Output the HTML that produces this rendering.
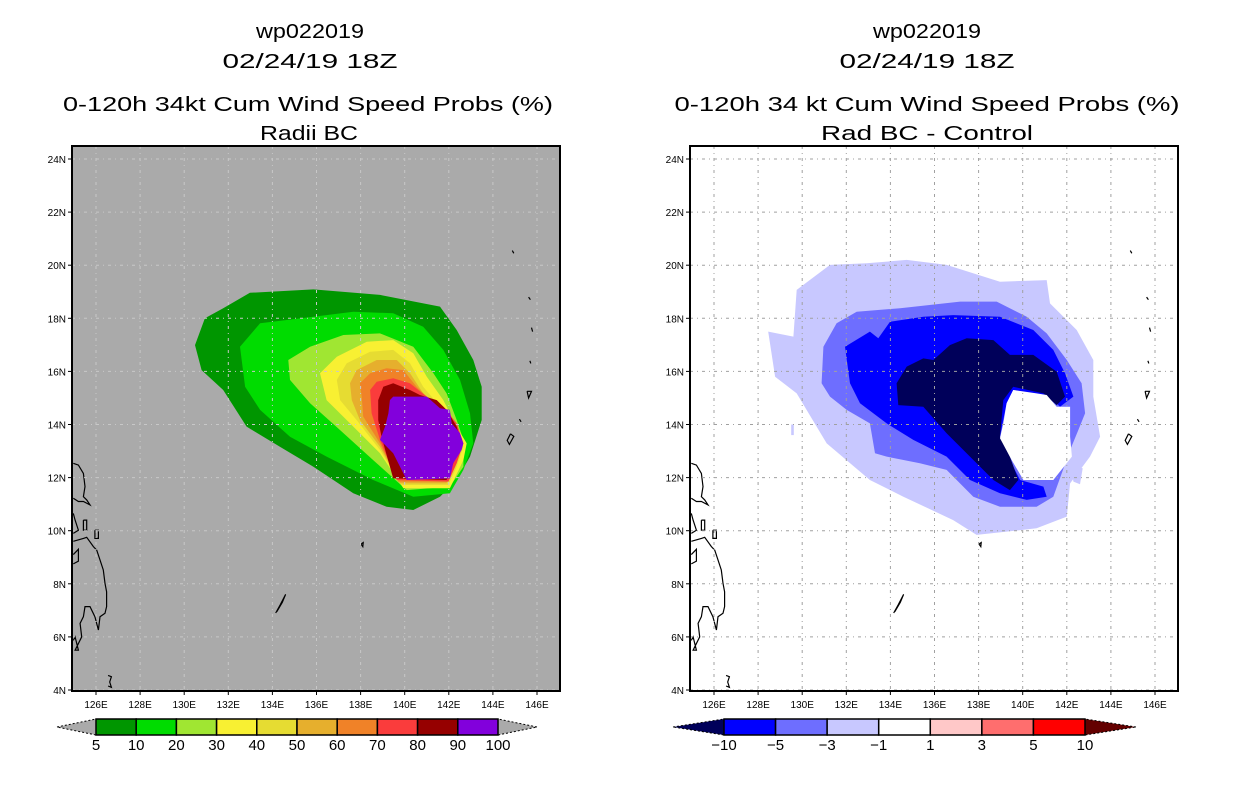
<!DOCTYPE html>
<html><head><meta charset="utf-8"><style>
html,body{margin:0;padding:0;background:#fff;width:1236px;height:800px;overflow:hidden}
svg text{font-family:"Liberation Sans",sans-serif;fill:#000}
</style></head><body>
<svg id="chart" width="1236" height="800" viewBox="0 0 1236 800" xmlns="http://www.w3.org/2000/svg">
<defs>
<clipPath id="clipL"><rect x="72" y="146" width="488" height="545"/></clipPath>
<clipPath id="clipR"><rect x="690" y="146" width="488" height="545"/></clipPath>
</defs>
<g>
<text x="310" y="38" text-anchor="middle" font-size="20" textLength="108" lengthAdjust="spacingAndGlyphs">wp022019</text>
<text x="310" y="68" text-anchor="middle" font-size="20" textLength="175" lengthAdjust="spacingAndGlyphs">02/24/19 18Z</text>
<text x="308" y="111" text-anchor="middle" font-size="20" textLength="490" lengthAdjust="spacingAndGlyphs">0-120h 34kt Cum Wind Speed Probs (%)</text>
<text x="309" y="140" text-anchor="middle" font-size="20" textLength="98" lengthAdjust="spacingAndGlyphs">Radii BC</text>
</g>
<g>
<text x="927" y="38" text-anchor="middle" font-size="20" textLength="108" lengthAdjust="spacingAndGlyphs">wp022019</text>
<text x="927" y="68" text-anchor="middle" font-size="20" textLength="175" lengthAdjust="spacingAndGlyphs">02/24/19 18Z</text>
<text x="927" y="111" text-anchor="middle" font-size="20" textLength="505" lengthAdjust="spacingAndGlyphs">0-120h 34 kt Cum Wind Speed Probs (%)</text>
<text x="927" y="140" text-anchor="middle" font-size="20" textLength="212" lengthAdjust="spacingAndGlyphs">Rad BC - Control</text>
</g>
<g id="left-map"></g>
<g id="right-map"></g>
<g id="cbar-left"></g>
<g id="cbar-right"></g>
</svg>
<script>
// ---- data ----
const lonTicks = [126,128,130,132,134,136,138,140,142,144,146];
const latTicks = [4,6,8,10,12,14,16,18,20,22,24];
const probLevels = [5,10,20,30,40,50,60,70,80,90];
const probColors = ["#009600","#00dc00","#a0e632","#f8f032","#e6dc32","#e6af2d","#f08228","#fa3c3c","#960000","#8200dc"];
const probBarLabels = ["5","10","20","30","40","50","60","70","80","90","100"];
const p5 = [[130.49,16.99],[130.94,18.0],[131.77,18.38],[132.98,18.96],[135.86,19.09],[138.88,18.88],[141.60,18.44],[142.36,17.56],[143.11,16.43],[143.49,15.42],[143.49,14.17],[142.96,12.79],[142.36,11.91],[141.60,11.28],[140.39,10.78],[139.18,10.90],[137.67,11.41],[135.86,12.41],[134.34,13.16],[132.83,13.92],[131.77,15.30],[130.79,16.05]];
const p10 = [[132.53,16.93],[133.44,17.81],[135.86,18.06],[137.67,18.25],[139.48,18.19],[140.84,17.68],[141.75,16.81],[142.51,15.68],[142.96,14.42],[143.11,13.29],[142.66,12.29],[142.05,11.41],[140.39,11.28],[138.57,11.91],[136.46,12.79],[134.80,13.54],[133.44,14.55],[132.76,15.42]];
const p20 = [[134.72,16.43],[135.71,16.93],[137.22,17.37],[138.88,17.43],[140.39,16.93],[141.30,15.93],[141.90,15.17],[142.36,14.17],[142.66,13.42],[142.66,12.41],[142.05,11.66],[140.09,11.53],[138.57,12.66],[137.07,13.79],[135.71,14.80],[134.80,15.68]];
const p30 = [[136.16,15.93],[136.92,16.55],[138.28,17.12],[139.48,17.18],[140.39,16.68],[141.00,15.80],[141.75,14.92],[142.36,13.92],[142.81,13.29],[142.66,12.66],[142.05,11.60],[139.94,11.60],[138.88,12.92],[137.67,13.92],[136.46,14.92]];
const p40 = [[136.92,15.68],[137.37,16.31],[138.43,16.74],[139.48,16.81],[140.24,16.31],[140.84,15.42],[141.60,14.67],[142.36,13.79],[142.66,13.16],[142.36,12.41],[141.98,11.72],[139.86,11.72],[138.88,13.04],[137.82,14.17],[137.07,14.92]];
const p50 = [[137.52,15.55],[137.82,16.05],[138.73,16.43],[139.64,16.43],[140.24,15.93],[140.84,15.17],[141.75,14.55],[142.36,13.67],[142.58,13.16],[142.28,12.47],[141.90,11.78],[139.79,11.78],[138.88,13.16],[137.97,14.17],[137.60,14.92]];
const p60 = [[137.97,15.55],[138.43,15.93],[139.18,16.12],[139.94,16.05],[140.54,15.42],[141.30,14.80],[142.05,14.42],[142.51,13.67],[142.51,12.92],[141.90,11.85],[139.71,11.85],[138.88,13.29],[138.12,14.30],[138.05,15.05]];
const p70 = [[138.43,15.30],[138.73,15.61],[139.48,15.74],[140.24,15.55],[140.99,15.05],[141.75,14.67],[142.36,14.04],[142.66,13.29],[142.36,12.54],[141.98,11.85],[139.64,11.91],[138.88,13.42],[138.50,14.42]];
const p80 = [[138.80,14.92],[139.03,15.42],[139.48,15.55],[140.24,15.30],[140.69,15.11],[141.45,14.92],[141.90,14.55],[142.36,13.92],[142.58,13.29],[142.20,12.54],[141.90,11.91],[139.48,11.97],[138.95,13.54],[138.80,14.17]];
const p90 = [[139.33,14.92],[139.48,15.05],[141.00,15.05],[141.60,14.61],[142.05,14.55],[142.13,14.04],[142.51,13.67],[142.66,13.29],[142.58,13.04],[142.20,12.54],[142.05,11.97],[140.09,11.91],[139.48,12.92],[138.88,13.42],[139.11,13.92],[139.26,14.42]];
const probPolys = [p5,p10,p20,p30,p40,p50,p60,p70,p80,p90];

const diffColors = ["#00005a","#0000ff","#6e6eff","#c8c8ff","#ffffff","#ffc8c8","#ff6e6e","#ff0000","#640000"];
const diffBarLabels = ["-10","-5","-3","-1","1","3","5","10"];
const dLight = [[128.46,17.50],[129.60,17.31],[129.75,19.07],[131.26,20.01],[132.92,20.07],[134.74,20.20],[136.55,20.01],[138.97,19.38],[141.09,19.44],[141.24,18.56],[142.45,17.56],[143.20,16.43],[143.20,15.05],[143.51,13.54],[143.05,12.79],[142.15,11.78],[142.00,10.53],[140.63,10.09],[137.91,9.84],[136.85,10.40],[134.59,11.28],[133.07,11.91],[131.11,13.29],[129.75,15.17],[128.77,15.80]];
const dLight2 = [[142.19,12.45],[142.72,12.35],[142.60,11.75],[142.30,11.85]];
const dLight3 = [[129.50,14.0],[129.62,14.0],[129.62,13.6],[129.50,13.6]];
const dMed = [[130.96,16.93],[131.56,17.81],[132.47,18.25],[134.44,18.38],[137.16,18.63],[138.82,18.63],[140.18,18.06],[141.09,17.43],[142.00,16.43],[142.67,15.55],[142.83,14.42],[142.52,13.79],[142.15,13.04],[141.39,11.28],[140.63,10.90],[138.97,10.90],[137.76,11.28],[136.55,12.29],[135.34,12.54],[133.83,12.79],[133.30,12.92],[133.07,14.04],[132.02,14.55],[131.26,15.05],[130.88,15.55]];
const dBlue = [[131.94,16.93],[133.07,17.50],[133.45,17.25],[133.98,17.87],[135.49,18.06],[136.85,18.12],[138.97,18.06],[140.48,17.56],[141.39,16.81],[141.92,15.93],[142.30,15.05],[141.69,14.67],[141.24,15.05],[139.57,15.30],[139.27,14.80],[138.97,13.54],[139.57,12.41],[139.88,11.91],[140.94,11.66],[141.09,11.28],[140.18,11.16],[138.97,11.41],[137.61,11.91],[136.55,12.79],[135.04,13.42],[133.83,14.04],[132.62,14.80],[132.17,15.55]];
const dNavy = [[134.28,15.55],[134.74,16.18],[135.49,16.49],[135.95,16.43],[136.70,16.99],[137.46,17.25],[138.67,17.18],[139.42,16.62],[140.48,16.62],[141.54,15.99],[141.92,15.05],[141.54,14.73],[140.94,15.17],[139.57,15.42],[139.12,14.92],[138.97,13.54],[139.42,12.79],[139.80,11.91],[139.42,11.53],[138.67,11.91],[137.61,12.79],[136.55,13.67],[135.49,14.67],[134.36,14.73]];
const dHole = [[139.27,14.80],[139.57,15.30],[140.63,15.17],[141.09,15.11],[141.54,14.67],[142.15,14.67],[142.15,13.54],[142.23,12.79],[141.39,11.91],[140.03,11.91],[139.50,12.66],[138.97,13.48],[139.12,14.04]];
const diffPolys = [dLight,dLight2,dLight3,dMed,dBlue,dNavy,dHole];
const diffPolyColors = ["#c8c8ff","#c8c8ff","#c8c8ff","#6e6eff","#0000ff","#00005a","#ffffff"];

const coast1 = [[124.97,12.54],[125.20,12.47],[125.43,12.16],[125.50,11.66],[125.43,11.28],[125.58,11.16],[125.73,10.97],[125.43,11.10],[125.20,11.10],[124.97,11.22]];
const coast2 = [[124.97,10.65],[125.05,10.40],[125.20,10.02],[124.97,9.90]];
const coast3 = [[125.43,10.40],[125.58,10.40],[125.58,10.02],[125.43,10.02],[125.43,10.40]];
const coast4 = [[125.95,10.02],[126.11,10.02],[126.11,9.71],[125.95,9.71],[125.95,10.02]];
const coast5 = [[124.97,9.60],[125.43,9.71],[125.58,9.75],[125.88,9.40],[126.03,9.27],[126.18,8.90],[126.33,8.52],[126.41,8.02],[126.48,7.70],[126.48,7.14],[126.41,6.89],[126.18,6.76],[126.11,6.26],[125.95,6.76],[125.73,7.14],[125.50,7.14],[125.43,6.76],[125.28,6.51],[125.35,6.00],[125.05,5.50],[125.20,5.50],[125.05,6.00],[124.97,5.87]];
const coast6 = [[124.97,9.10],[125.20,9.30],[125.20,8.85],[124.97,8.75]];
const coast7 = [[126.55,4.55],[126.70,4.50],[126.62,4.30],[126.70,4.10],[126.55,4.15]];
const coast8 = [[134.15,6.90],[134.35,7.20],[134.60,7.60],[134.45,7.30],[134.20,6.95]];
const coast9 = [[138.02,9.50],[138.12,9.55],[138.10,9.40],[138.02,9.50]];
const coast10 = [[144.88,20.55],[144.95,20.45]];
const coast11 = [[145.62,18.80],[145.70,18.70]];
const coast12 = [[145.75,17.65],[145.80,17.50]];
const coast13 = [[145.68,16.40],[145.72,16.30]];
const coast14 = [[145.55,15.25],[145.75,15.25],[145.62,15.0],[145.55,15.25]];
const coast15 = [[145.20,14.20],[145.28,14.10]];
const coast16 = [[144.80,13.65],[144.95,13.55],[144.75,13.25],[144.65,13.40],[144.80,13.65]];
const coasts = [coast1,coast2,coast3,coast4,coast5,coast6,coast7,coast8,coast9,coast10,coast11,coast12,coast13,coast14,coast15,coast16];

// ---- axes ----
const NS = "http://www.w3.org/2000/svg";
const LON0 = 126, LAT0 = 24, PXDEG = 22.05, PYDEG = 26.55;
function xScale(lon, off){ return 96 + off + (lon - LON0) * PXDEG; }
function yScale(lat){ return 159 + (LAT0 - lat) * PYDEG; }
function mk(tag, attrs, parent){ const e=document.createElementNS(NS,tag); for(const k in attrs) e.setAttribute(k,attrs[k]); parent.appendChild(e); return e; }
function ptsStr(poly, off){ return poly.map(p => xScale(p[0],off).toFixed(1)+","+yScale(p[1]).toFixed(1)).join(" "); }

function drawMap(gid, off, bg, clipId, gridColor, polys, colors, nameBase){
  const g = document.getElementById(gid);
  const fx = 72 + off;
  const bgR = mk("rect",{x:fx,y:146,width:488,height:545,fill:bg},g);
  
  
  const inner = mk("g",{"clip-path":"url(#"+clipId+")"},g);
  polys.forEach((poly,i)=>{
    const pg = mk("polygon",{points:ptsStr(poly,off),fill:colors[i]},inner);
    
    
  });
  coasts.forEach(c=>{
    const pl = mk("polyline",{points:ptsStr(c,off),fill:"none",stroke:"#000","stroke-width":1.2},inner);
    
    
  });
  lonTicks.forEach(lo=>{
    const x = xScale(lo,off);
    const l = mk("line",{x1:x,y1:146,x2:x,y2:691,stroke:gridColor,"stroke-width":1,"stroke-dasharray":"3,4,1,4"},inner);
    
    
    const t = mk("line",{x1:x,y1:691,x2:x,y2:695,stroke:"#000"},g);
    
    
    const tx = mk("text",{x:x,y:708,"font-size":10,"text-anchor":"middle"},g);
    tx.textContent = lo + "E";
    
    
  });
  latTicks.forEach(la=>{
    const y = yScale(la);
    const l = mk("line",{x1:fx,y1:y,x2:fx+488,y2:y,stroke:gridColor,"stroke-width":1,"stroke-dasharray":"3,4,1,4"},inner);
    
    
    const t = mk("line",{x1:fx-4,y1:y,x2:fx,y2:y,stroke:"#000"},g);
    
    
    const tx = mk("text",{x:fx-6,y:y+4,"font-size":10,"text-anchor":"end"},g);
    tx.textContent = la + "N";
    
    
  });
  const fr = mk("rect",{x:fx,y:146,width:488,height:545,fill:"none",stroke:"#000","stroke-width":2},g);
  
  
}
drawMap("left-map",0,"#aaaaaa","clipL","#c8c8c8",probPolys,probColors,"prob-contour");
drawMap("right-map",618,"#ffffff","clipR","#a0a0a0",diffPolys,diffPolyColors,"diff-contour");

function drawBar(gid, x0, x1, triW, colors, labels){
  const g = document.getElementById(gid);
  const n = colors.length - 2;
  const bx0 = x0 + triW, bx1 = x1 - triW, w = (bx1 - bx0)/n;
  const y0 = 719, y1 = 735, ym = 727;
  const lt = mk("polygon",{points:x0+","+ym+" "+bx0+","+y0+" "+bx0+","+y1,fill:colors[0],stroke:"#000","stroke-width":1,"stroke-dasharray":"2,2"},g);
  
  
  const rt = mk("polygon",{points:x1+","+ym+" "+bx1+","+y0+" "+bx1+","+y1,fill:colors[colors.length-1],stroke:"#000","stroke-width":1,"stroke-dasharray":"2,2"},g);
  
  
  for(let i=0;i<n;i++){
    const r = mk("rect",{x:bx0+i*w,y:y0,width:w,height:y1-y0,fill:colors[i+1],stroke:"#000","stroke-width":1.5},g);
    
    
  }
  labels.forEach((lab,i)=>{
    const t = mk("text",{x:bx0+i*w,y:750,"font-size":15,"text-anchor":"middle"},g);
    t.textContent = lab.replace("-","\u2212");
    
    
  });
}
drawBar("cbar-left",57,537,39,["#aaaaaa"].concat(probColors).concat(["#aaaaaa"]),probBarLabels);
drawBar("cbar-right",673,1136,51,diffColors,diffBarLabels);
</script>
</body></html>
